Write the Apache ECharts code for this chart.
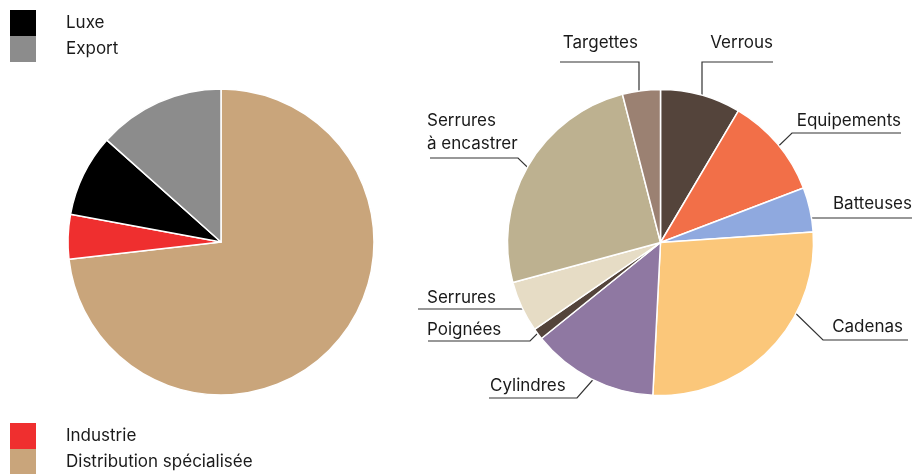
<!DOCTYPE html>
<html>
<head>
<meta charset="utf-8">
<script src="https://cdn.jsdelivr.net/npm/echarts@6/dist/echarts.min.js"></script>
<style>
html,body{margin:0;padding:0;background:#fff;}
#chart{width:915px;height:474px;}
</style>
</head>
<body>
<div id="chart"></div>
<script>
// ---- data ----
const leftCategories = ['Distribution spécialisée', 'Industrie', 'Luxe', 'Export'];
const leftValues = [73.2, 4.7, 8.7, 13.4];
const leftColors = ['#c9a57b', '#ef2f2f', '#000000', '#8c8c8c'];

const rightCategories = ['Verrous', 'Equipements', 'Batteuses', 'Cadenas', 'Cylindres', 'Poignées', 'Serrures', 'Serrures à encastrer', 'Targettes'];
const rightValues = [8.5, 10.7, 4.7, 26.9, 13.4, 1.2, 5.4, 25.2, 4.0];
const rightColors = ['#54443b', '#f26f48', '#8fa9df', '#fbc77a', '#8f78a2', '#54443b', '#e6dcc5', '#bdb190', '#9b8172'];

const legendTop = ['Luxe', 'Export'];
const legendBottom = ['Industrie', 'Distribution spécialisée'];

// ---- callout layout (annotation placement only) ----
const callouts = [
  { line: [[702, 122], [702, 62], [773, 62]], text: [773, 43], align: 'right' },
  { line: [[760, 164], [792, 133], [901, 133]], text: [901, 121], align: 'right' },
  { line: [[792, 218], [852, 218], [912, 218]], text: [912, 204], align: 'right' },
  { line: [[784, 302], [823, 340], [908, 340]], text: [903, 327], align: 'right' },
  { line: [[598, 374], [577, 398], [489, 398]], text: [490, 386], align: 'left' },
  { line: [[542, 329], [530, 341], [428, 341]], text: [427, 330], align: 'left' },
  { line: [[533, 309], [480, 309], [418, 309]], text: [427, 298], align: 'left' },
  { line: [[551, 190], [518, 158], [430, 158]], text: [427, 132], align: 'left' },
  { line: [[639, 122], [639, 62], [560, 62]], text: [638, 43], align: 'right' }
];

const FONT = 'Inter';
const chart = echarts.init(document.getElementById('chart'), null, { renderer: 'canvas' });

const legendCommon = {
  orient: 'vertical',
  left: 10,
  padding: 0,
  height: 60,
  itemWidth: 26,
  itemHeight: 26,
  itemGap: 0,
  icon: 'rect',
  selectedMode: false,
  itemStyle: { borderWidth: 0 },
  textStyle: { fontFamily: FONT, fontSize: 17, color: '#1a1a1a', padding: [0, 0, 0, 25] }
};

chart.setOption({
  animation: false,
  backgroundColor: '#fff',
  legend: [
    Object.assign({}, legendCommon, { top: 10, data: legendTop }),
    Object.assign({}, legendCommon, { top: 423, data: legendBottom })
  ],
  series: [
    {
      type: 'pie',
      center: [221, 242],
      radius: 153,
      startAngle: 90,
      clockwise: true,
      avoidLabelOverlap: false,
      label: { show: false },
      labelLine: { show: false },
      itemStyle: { borderColor: '#fff', borderWidth: 1.5 },
      emphasis: { disabled: true },
      data: leftCategories.map((c, i) => ({ name: c, value: leftValues[i], itemStyle: { color: leftColors[i] } }))
    },
    {
      type: 'pie',
      center: [660.5, 242.5],
      radius: 153,
      startAngle: 90,
      clockwise: true,
      avoidLabelOverlap: false,
      itemStyle: { borderColor: '#fff', borderWidth: 1.5 },
      emphasis: { disabled: true },
      label: {
        show: true,
        position: 'outside',
        fontFamily: FONT,
        fontSize: 17,
        lineHeight: 23,
        color: '#1a1a1a',
        formatter: p => p.name.replace(' à ', '\nà ')
      },
      labelLine: { show: true, length: 10, length2: 10, lineStyle: { color: '#333', width: 1.2 } },
      labelLayout: function (params) {
        const c = callouts[params.dataIndex];
        return {
          x: c.text[0],
          y: c.text[1],
          align: c.align,
          verticalAlign: 'middle',
          labelLinePoints: c.line
        };
      },
      data: rightCategories.map((c, i) => ({ name: c, value: rightValues[i], itemStyle: { color: rightColors[i] } }))
    }
  ]
});
</script>
</body>
</html>
